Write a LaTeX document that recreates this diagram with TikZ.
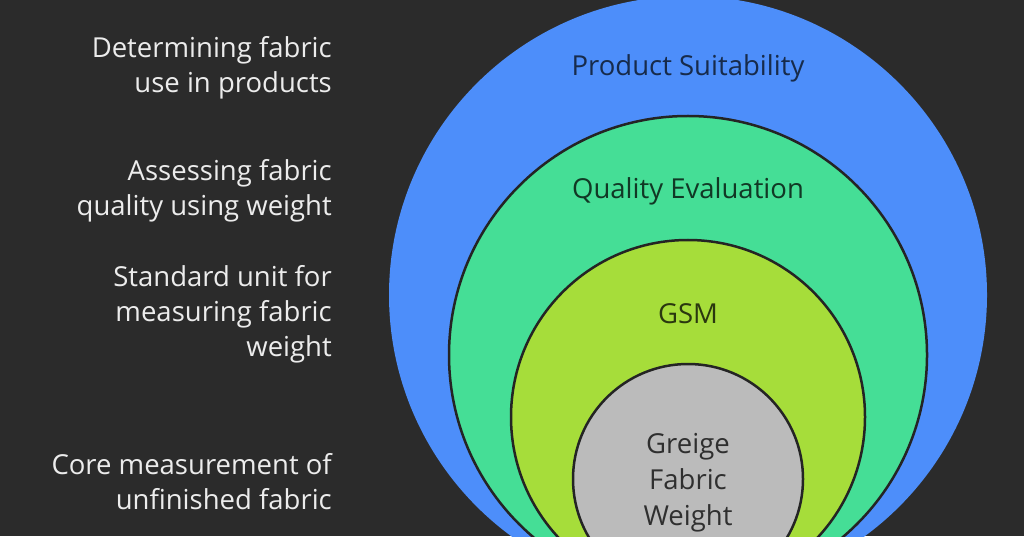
\documentclass[tikz,border=0pt]{standalone}
\usepackage{fontspec}
\setmainfont{Open Sans}
\usetikzlibrary{positioning}
\definecolor{bgDark}{RGB}{43,43,43}
\definecolor{ringEdge}{RGB}{36,36,36}
\definecolor{ringBlue}{RGB}{77,142,250}
\definecolor{ringGreen}{RGB}{69,222,150}
\definecolor{ringLime}{RGB}{166,221,58}
\definecolor{ringGrey}{RGB}{187,187,187}
\definecolor{descText}{RGB}{236,236,236}

\begin{document}
\begin{tikzpicture}[x=1pt, y=1pt,
    ring/.style={circle, draw=ringEdge, line width=2.5pt,
                 inner sep=0pt, outer sep=0pt},
    inlabel/.style={font=\fontsize{27.5}{36}\selectfont, align=center,
                    inner sep=0pt},
    desc/.style={font=\fontsize{27.5}{35}\selectfont, align=right,
                 text=descText, anchor=east, inner sep=0pt}
  ]
  \useasboundingbox (0,0) rectangle (1024,536);
  \clip (0,0) rectangle (1024,536);
  \fill[bgDark] (0,0) rectangle (1024,536);

  % nested rings, all touching below the frame
  \node[ring, draw=none, fill=ringBlue, minimum size=598pt] (prod)   at (688,241) {};
  \node[ring, fill=ringGreen, minimum size=478pt]           (qual)   at (688,181) {};
  \node[ring, fill=ringLime,  minimum size=354pt]           (gsm)    at (688,119) {};
  \node[ring, fill=ringGrey,  minimum size=230pt]           (greige) at (688,57)  {};

  \node[inlabel, text=ringBlue!30!black]  (prodtxt)   at (688,468) {Product Suitability};
  \node[inlabel, text=ringGreen!25!black] (qualtxt)   at (688,345) {Quality Evaluation};
  \node[inlabel, text=ringLime!25!black]  (gsmtxt)    at (688,222) {GSM};
  \node[inlabel, text=ringGrey!25!black]  (greigetxt) at (688,53)  {Greige\\Fabric\\Weight};

  % descriptions on the left
  \coordinate (edge) at (332,0);
  \node[desc] (d1) at (edge |- prodtxt)   {Determining fabric\\use in products};
  \node[desc] (d2) at (edge |- qualtxt)   {Assessing fabric\\quality using weight};
  \node[desc] (d3) at (edge |- gsmtxt)    {Standard unit for\\measuring fabric\\weight};
  \node[desc] (d4) at ([yshift=1pt]edge |- greigetxt) {Core measurement of\\unfinished fabric};
\end{tikzpicture}
\end{document}
